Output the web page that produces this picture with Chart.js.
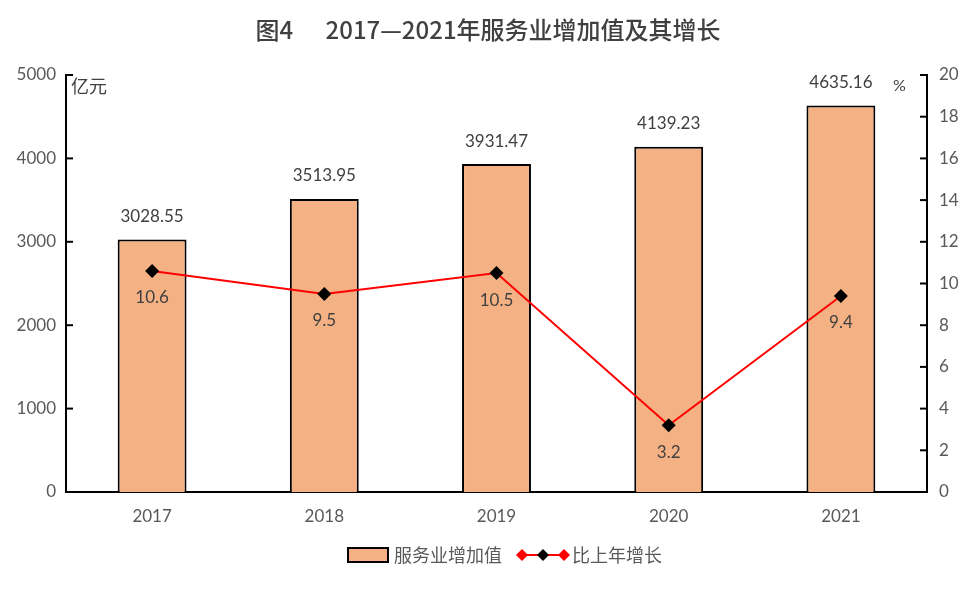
<!DOCTYPE html>
<html>
<head>
<meta charset="utf-8">
<script src="https://cdn.jsdelivr.net/npm/chart.js@4/dist/chart.umd.min.js"></script>
<style>
  body { margin: 0; background: #fff; }
  #wrap { width: 976px; height: 591px; position: relative; }
</style>
</head>
<body>
<div id="wrap"><canvas id="fuwuye"></canvas></div>
<script>
const years = ["2017", "2018", "2019", "2020", "2021"];
const addedValue = [3028.55, 3513.95, 3931.47, 4139.23, 4635.16];
const growth = [10.6, 9.5, 10.5, 3.2, 9.4];
const titleText = "图4      2017—2021年服务业增加值及其增长";

const FONT = 'Lato, "Noto Sans CJK SC", sans-serif';
const CJK = '"Noto Sans CJK SC", sans-serif';

// draws title, unit labels, value labels, inward ticks and the legend
const extras = {
  id: "extras",
  afterDraw(chart) {
    const c = chart.ctx;
    const area = chart.chartArea;
    c.save();
    c.fillStyle = "#404040";
    c.font = "500 24px " + CJK;
    c.textAlign = "center";
    c.textBaseline = "middle";
    c.fillText(titleText, 488, 30);

    // units
    c.font = "18px " + CJK;
    c.textAlign = "left";
    c.fillText("亿元", 71, 86);
    c.font = "16px " + FONT;
    c.fillText("%", 893, 86);

    // inward tick marks
    c.strokeStyle = "#000";
    c.lineWidth = 2;
    const yL = chart.scales.y, yR = chart.scales.y1;
    yL.ticks.forEach((t, i) => {
      const py = yL.getPixelForTick(i);
      c.beginPath(); c.moveTo(area.left, py); c.lineTo(area.left + 7, py); c.stroke();
    });
    yR.ticks.forEach((t, i) => {
      const py = yR.getPixelForTick(i);
      c.beginPath(); c.moveTo(area.right, py); c.lineTo(area.right - 7, py); c.stroke();
    });

    // value labels
    c.fillStyle = "#404040";
    c.font = "17px " + FONT;
    c.textAlign = "center";
    chart.getDatasetMeta(1).data.forEach((bar, i) => {
      c.fillText(addedValue[i].toFixed(2), bar.x, bar.y - 23);
    });
    chart.getDatasetMeta(0).data.forEach((pt, i) => {
      c.fillText(growth[i].toFixed(1), pt.x, pt.y + 27);
    });

    // legend
    const ly = 555;
    c.fillStyle = "#F4B183";
    c.fillRect(348, ly - 7, 40, 14);
    c.lineWidth = 2;
    c.strokeStyle = "#000";
    c.strokeRect(348, ly - 7, 40, 14);
    c.fillStyle = "#595959";
    c.font = "18px " + CJK;
    c.textAlign = "left";
    c.fillText(chart.data.datasets[1].label, 394, ly);

    c.strokeStyle = "#FF0000";
    c.beginPath(); c.moveTo(520, ly); c.lineTo(566, ly); c.stroke();
    const diamond = (x, col) => {
      c.fillStyle = col;
      c.beginPath();
      c.moveTo(x, ly - 6); c.lineTo(x + 6, ly); c.lineTo(x, ly + 6); c.lineTo(x - 6, ly);
      c.closePath(); c.fill();
    };
    diamond(522, "#FF0000");
    diamond(543, "#000");
    diamond(564, "#FF0000");
    c.fillStyle = "#595959";
    c.fillText(chart.data.datasets[0].label, 572, ly);
    c.restore();
  }
};

new Chart(document.getElementById("fuwuye"), {
  type: "bar",
  data: {
    labels: years,
    datasets: [
      {
        type: "line",
        label: "比上年增长",
        data: growth,
        yAxisID: "y1",
        borderColor: "#FF0000",
        borderWidth: 2,
        pointStyle: "rectRot",
        pointRadius: 7,
        pointHoverRadius: 7,
        pointBackgroundColor: "#000",
        pointBorderColor: "#000",
        pointBorderWidth: 0,
        order: 0
      },
      {
        label: "服务业增加值",
        data: addedValue,
        yAxisID: "y",
        backgroundColor: "#F4B183",
        borderColor: "#000",
        borderWidth: 2,
        categoryPercentage: 1,
        barPercentage: 0.4,
        order: 1
      }
    ]
  },
  options: {
    responsive: true,
    maintainAspectRatio: false,
    animation: false,
    devicePixelRatio: 1,
    layout: { padding: { top: 75, bottom: 59, left: 0, right: 0 } },
    plugins: {
      legend: { display: false },
      title: { display: false },
      tooltip: { enabled: false }
    },
    scales: {
      x: {
        grid: { display: false, drawTicks: false },
        border: { color: "#000", width: 2 },
        ticks: { color: "#595959", font: { size: 17, family: FONT }, padding: 14 },
        afterFit(s) { s.height = 40; }
      },
      y: {
        position: "left",
        min: 0, max: 5000,
        grid: { display: false, drawTicks: false },
        border: { color: "#000", width: 2 },
        ticks: { stepSize: 1000, color: "#595959", font: { size: 17, family: FONT }, padding: 10,
                 callback: v => String(v) },
        afterFit(s) { s.width = 66; }
      },
      y1: {
        position: "right",
        min: 0, max: 20,
        grid: { display: false, drawTicks: false },
        border: { color: "#000", width: 2 },
        ticks: { stepSize: 2, color: "#595959", font: { size: 17, family: FONT }, padding: 12 },
        afterFit(s) { s.width = 49; }
      }
    }
  },
  plugins: [extras]
});
</script>
</body>
</html>
